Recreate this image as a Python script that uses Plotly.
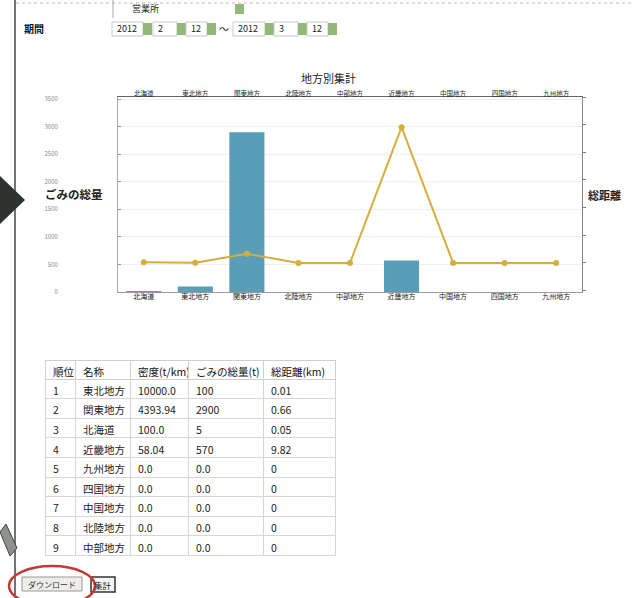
import plotly.graph_objects as go

W, H = 633, 598

# Chart data: regions on the category axis, total waste (t) and total distance (km)
regions = ["北海道", "東北地方", "関東地方", "北陸地方", "中部地方",
           "近畿地方", "中国地方", "四国地方", "九州地方"]
waste_total = [5, 100, 2900, 0, 0, 570, 0, 0, 0]
distance_total = [0.05, 0.01, 0.66, 0, 0, 9.82, 0, 0, 0]

left_ticks = [0, 500, 1000, 1500, 2000, 2500, 3000, 3500]
right_ticks = [-2, 0, 2, 4, 6, 8, 10, 12]

# Ranking table
table_header = ["順位", "名称", "密度(t/km)", "ごみの総量(t)", "総距離(km)"]
rank_col = ["1", "2", "3", "4", "5", "6", "7", "8", "9"]
name_col = ["東北地方", "関東地方", "北海道", "近畿地方", "九州地方",
            "四国地方", "中国地方", "北陸地方", "中部地方"]
density_col = ["10000.0", "4393.94", "100.0", "58.04", "0.0", "0.0", "0.0", "0.0", "0.0"]
total_col = ["100", "2900", "5", "570", "0.0", "0.0", "0.0", "0.0", "0.0"]
dist_col = ["0.01", "0.66", "0.05", "9.82", "0", "0", "0", "0", "0"]

JP = "Noto Sans CJK JP"
BAR = "#5a9db6"
LINE = "#d4ae3e"
GREEN = "#93b87a"


def px(x):
    return x / W


def py(y):
    return 1 - y / H


fig = go.Figure()

fig.add_trace(go.Bar(
    x=regions, y=waste_total, marker=dict(color=BAR, line=dict(width=0)),
    width=0.68, xaxis="x", yaxis="y", showlegend=False,
))
fig.add_trace(go.Scatter(
    x=regions, y=distance_total, mode="lines+markers",
    line=dict(color=LINE, width=2), marker=dict(color=LINE, size=6),
    xaxis="x2", yaxis="y2", showlegend=False,
))

fig.add_trace(go.Table(
    domain=dict(x=[px(45), px(335)], y=[py(556), py(360)]),
    columnwidth=[30, 55, 58, 75, 72],
    header=dict(values=table_header, align="left", height=19,
                fill_color="white", line_color="#cfcfcf",
                font=dict(family=JP, size=10.5, color="#111")),
    cells=dict(values=[rank_col, name_col, density_col, total_col, dist_col],
               align="left", height=19.6, fill_color="white",
               line_color="#d6d6d6",
               font=dict(family=JP, size=10.5, color="#222")),
))

x_dom = [px(118), px(582)]
y_dom = [py(292), py(97)]

shapes = []
annotations = []

# page frame line and dotted rule at top
shapes.append(dict(type="line", xref="paper", yref="paper", x0=px(15), x1=px(15),
                   y0=0, y1=1, line=dict(color="#444", width=1.5)))
shapes.append(dict(type="line", xref="paper", yref="paper", x0=px(16), x1=1,
                   y0=py(3), y1=py(3), line=dict(color="#bbb", width=1, dash="dot")))

# form: office selector
shapes.append(dict(type="line", xref="paper", yref="paper", x0=px(113), x1=px(113),
                   y0=py(0), y1=py(18), line=dict(color="#aaa", width=1)))
shapes.append(dict(type="rect", xref="paper", yref="paper", x0=px(235), x1=px(244),
                   y0=py(14), y1=py(4), fillcolor=GREEN, line=dict(width=0)))
annotations.append(dict(text="営業所", x=px(130), y=py(9), xref="paper", yref="paper",
                        xanchor="left", yanchor="middle", showarrow=False,
                        font=dict(family=JP, size=9, color="#222")))
annotations.append(dict(text="<b>期間</b>", x=px(22), y=py(29), xref="paper", yref="paper",
                        xanchor="left", yanchor="middle", showarrow=False,
                        font=dict(family=JP, size=10, color="#111")))

# date selectors: (box left, box right, label)
selects = [(112, 143, "2012"), (153, 177, "2"), (186, 207, "12"),
           (233, 265, "2012"), (274, 298, "3"), (307, 328, "12")]
for x0, x1, lab in selects:
    shapes.append(dict(type="rect", xref="paper", yref="paper", x0=px(x0), x1=px(x1),
                       y0=py(36), y1=py(22), fillcolor="white",
                       line=dict(color="#c8c8c8", width=1)))
    shapes.append(dict(type="rect", xref="paper", yref="paper", x0=px(x1), x1=px(x1 + 9),
                       y0=py(35), y1=py(23), fillcolor=GREEN, line=dict(width=0)))
    annotations.append(dict(text=lab, x=px(x0 + 3), y=py(29), xref="paper", yref="paper",
                            xanchor="left", yanchor="middle", showarrow=False,
                            font=dict(family=JP, size=9, color="#222")))
annotations.append(dict(text="〜", x=px(224), y=py(29), xref="paper", yref="paper",
                        xanchor="center", yanchor="middle", showarrow=False,
                        font=dict(family=JP, size=10, color="#222")))

# side pointer and tab
shapes.append(dict(type="path", xref="paper", yref="paper",
                   path=f"M 0 {py(176)} L {px(25)} {py(200)} L 0 {py(224)} Z",
                   fillcolor="#2f332f", line=dict(width=0)))
shapes.append(dict(type="path", xref="paper", yref="paper",
                   path=(f"M {px(0)} {py(532)} L {px(6)} {py(524)} L {px(17)} {py(548)} "
                         f"L {px(10)} {py(556)} Z"),
                   fillcolor="#8c9189", line=dict(color="#444", width=1)))

# buttons
shapes.append(dict(type="rect", xref="paper", yref="paper", x0=px(22), x1=px(82),
                   y0=py(591), y1=py(577), fillcolor="#ededea",
                   line=dict(color="#999", width=1)))
shapes.append(dict(type="rect", xref="paper", yref="paper", x0=px(91), x1=px(115),
                   y0=py(592), y1=py(577), fillcolor="#f4f4f2",
                   line=dict(color="#333", width=1.5)))
annotations.append(dict(text="ダウンロード", x=px(52), y=py(584), xref="paper", yref="paper",
                        xanchor="center", yanchor="middle", showarrow=False,
                        font=dict(family=JP, size=8, color="#333")))
annotations.append(dict(text="集計", x=px(103), y=py(584.5), xref="paper", yref="paper",
                        xanchor="center", yanchor="middle", showarrow=False,
                        font=dict(family=JP, size=8.5, color="#222")))
shapes.append(dict(type="circle", xref="paper", yref="paper", x0=px(9), x1=px(95),
                   y0=py(606), y1=py(566), line=dict(color="#c23a35", width=2.5)))

# chart title and axis titles
annotations.append(dict(text="地方別集計", x=(x_dom[0] + x_dom[1]) / 2 - px(22), y=py(78),
                        xref="paper", yref="paper", xanchor="center", yanchor="middle",
                        showarrow=False, font=dict(family=JP, size=11, color="#222")))
annotations.append(dict(text="<b>ごみの総量</b>", x=px(43), y=py(194), xref="paper",
                        yref="paper", xanchor="left", yanchor="middle", showarrow=False,
                        font=dict(family=JP, size=11.5, color="#222")))
annotations.append(dict(text="<b>総距離</b>", x=px(586), y=py(195), xref="paper",
                        yref="paper", xanchor="left", yanchor="middle", showarrow=False,
                        font=dict(family=JP, size=11, color="#222")))

fig.update_layout(
    width=W, height=H,
    margin=dict(l=0, r=0, t=0, b=0),
    paper_bgcolor="white", plot_bgcolor="white",
    bargap=0.3,
    xaxis=dict(domain=x_dom, type="category", range=[-0.5, 8.5],
               showline=True, linecolor="#9a9a9a", linewidth=1,
               showgrid=False, ticks="", automargin=False,
               ticklabelstandoff=-2,
               tickfont=dict(family=JP, size=7, color="#222")),
    yaxis=dict(domain=y_dom, range=[0, 3540], tickvals=left_ticks,
               showline=True, linecolor="#aaa", linewidth=1,
               ticks="inside", ticklen=3, tickcolor="#999",
               showgrid=True, gridcolor="#f0f0f0", zeroline=False,
               ticklabelstandoff=58, automargin=False,
               tickfont=dict(family=JP, size=6, color="#888")),
    xaxis2=dict(type="category", range=[-0.5, 8.5], overlaying="x", side="top",
                anchor="y2", showline=True, linecolor="#666", linewidth=1,
                showgrid=False, ticks="", automargin=False,
                ticklabelstandoff=-3,
                tickfont=dict(family=JP, size=6.5, color="#222")),
    yaxis2=dict(range=[-2.1, 12], tickvals=right_ticks, overlaying="y", side="right",
                anchor="x", showline=True, linecolor="#888", linewidth=1,
                ticks="outside", ticklen=3, tickcolor="#777",
                showticklabels=False, showgrid=False, zeroline=False,
                automargin=False),
    shapes=shapes,
    annotations=annotations,
)

fig.write_html("out.html")
